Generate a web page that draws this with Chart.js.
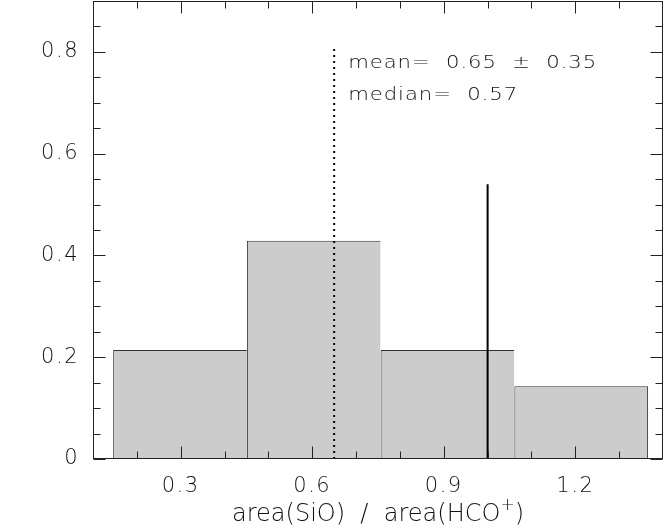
<!DOCTYPE html>
<html><head><meta charset="utf-8">
<script src="https://cdn.jsdelivr.net/npm/chart.js@4/dist/chart.umd.min.js"></script>
<style>html,body{margin:0;padding:0;background:#fff;} canvas{display:block;}</style>
</head><body>
<canvas id="c" width="664" height="528"></canvas>
<script>
// ---- data ----
const binEdges = [0.146, 0.451, 0.756, 1.061, 1.366];
const fractions = [0.214, 0.429, 0.214, 0.143];
const xTickLabels = [0.3, 0.6, 0.9, 1.2];
const xMinorTicks = [0.2, 0.4, 0.5, 0.7, 0.8, 1.0, 1.1, 1.3];
const yTickLabels = [0, 0.2, 0.4, 0.6, 0.8];
const yMinorTicks = [0.05, 0.1, 0.15, 0.25, 0.3, 0.35, 0.45, 0.5, 0.55, 0.65, 0.7, 0.75, 0.85];
const meanValue = 0.65, meanError = 0.35, medianValue = 0.57;
const meanLine = [{x: 0.65, y: 0}, {x: 0.65, y: 0.806}];
const markerLine = [{x: 1.0, y: 0}, {x: 1.0, y: 0.54}];
const xRange = [0.1, 1.4];
const yRange = [0, 0.9];

const FONT = '"DejaVu Sans", sans-serif';
const TXT = '#111';

const histData = fractions.map((f, i) => ({x: (binEdges[i] + binEdges[i + 1]) / 2, y: f}));

const framePlugin = {
  id: 'frame',
  beforeDraw(chart) {
    chart.ctx.letterSpacing = '1.5px';
  },
  afterDatasetsDraw(chart) {
    const {ctx, chartArea: a, scales: {x, y}} = chart;
    ctx.save();
    ctx.strokeStyle = '#222';
    ctx.lineWidth = 1;
    const L = Math.round(a.left) + 0.5, R = Math.round(a.right) - 0.5;
    const T = Math.round(a.top) + 0.5, B = Math.round(a.bottom) - 0.5;
    ctx.strokeRect(L, T, R - L, B - T);
    ctx.beginPath();
    const xt = (v, len) => {
      const p = Math.round(x.getPixelForValue(v)) + 0.5;
      ctx.moveTo(p, B); ctx.lineTo(p, B - len);
      ctx.moveTo(p, T); ctx.lineTo(p, T + len);
    };
    const yt = (v, len) => {
      const p = Math.round(y.getPixelForValue(v)) + 0.5;
      ctx.moveTo(L, p); ctx.lineTo(L + len, p);
      ctx.moveTo(R, p); ctx.lineTo(R - len, p);
    };
    xTickLabels.forEach(v => xt(v, 12));
    xMinorTicks.forEach(v => xt(v, 7));
    yTickLabels.forEach(v => yt(v, 12));
    yMinorTicks.forEach(v => yt(v, 7));
    ctx.stroke();
    ctx.restore();
  },
  afterDraw(chart) {
    const {ctx, scales: {x}} = chart;
    ctx.save();
    ctx.fillStyle = TXT;
    ctx.textBaseline = 'alphabetic';
    ctx.textAlign = 'left';
    // annotations, stretched horizontally to the reference's wide glyphs
    ctx.font = '200 18px ' + FONT;
    ctx.letterSpacing = '0.8px';
    const meanText = 'mean=  ' + meanValue.toFixed(2) + '  \u00b1  ' + meanError.toFixed(2);
    const medText = 'median=  ' + medianValue.toFixed(2);
    const k1 = 249 / ctx.measureText(meanText).width;
    const tx = x.getPixelForValue(meanValue) + 14;
    ctx.save();
    ctx.translate(tx, 0);
    ctx.scale(k1, 1);
    ctx.fillText(meanText, 0, 68);
    ctx.fillText(medText, 0, 100);
    ctx.restore();
    // axis title with superscript, compressed to the reference width
    ctx.letterSpacing = '0px';
    const p1 = 'area(SiO)  /  area(HCO', sup = '+', p2 = ')';
    ctx.font = '200 24px ' + FONT;
    const w1 = ctx.measureText(p1).width;
    const w2 = ctx.measureText(p2).width;
    ctx.font = '200 17px ' + FONT;
    const ws = ctx.measureText(sup).width;
    const total = w1 + ws + w2;
    const k = 292 / total;
    const sx = 378 - 146, base = 521;
    ctx.translate(sx, base);
    ctx.scale(k, 1);
    ctx.font = '200 24px ' + FONT;
    ctx.fillText(p1, 0, 0);
    ctx.font = '200 17px ' + FONT;
    ctx.fillText(sup, w1, -11);
    ctx.font = '200 24px ' + FONT;
    ctx.fillText(p2, w1 + ws, 0);
    ctx.restore();
  }
};

new Chart(document.getElementById('c'), {
  type: 'bar',
  data: {
    datasets: [
      {type: 'line', data: meanLine, borderColor: '#000', borderWidth: 2, borderDash: [2, 4],
       pointRadius: 0, fill: false, order: 0},
      {type: 'line', data: markerLine, borderColor: '#000', borderWidth: 2,
       pointRadius: 0, fill: false, order: 0},
      {type: 'bar', data: histData, backgroundColor: '#cccccc', borderColor: '#333',
       borderWidth: c => ({top: 1, left: 1, bottom: 0, right: c.dataIndex === fractions.length - 1 ? 1 : 0}),
       borderSkipped: false,
       barPercentage: 1,
       categoryPercentage: (binEdges[1] - binEdges[0]) / (xTickLabels[1] - xTickLabels[0]),
       order: 1}
    ]
  },
  options: {
    responsive: false,
    devicePixelRatio: 1,
    animation: false,
    layout: {padding: {top: 1, right: 1, left: 0, bottom: 0}},
    plugins: {legend: {display: false}, tooltip: {enabled: false}},
    scales: {
      x: {
        type: 'linear', min: xRange[0], max: xRange[1], offset: false,
        grid: {display: false, drawTicks: false}, border: {display: false},
        afterBuildTicks: s => { s.ticks = xTickLabels.map(v => ({value: v})); },
        afterFit: s => { s.height = 69; s.paddingLeft = 0; s.paddingRight = 0; },
        ticks: {padding: 15, color: TXT, font: {family: FONT, size: 21, weight: 200}, maxRotation: 0,
                callback: v => v.toFixed(1)}
      },
      y: {
        type: 'linear', min: yRange[0], max: yRange[1],
        grid: {display: false, drawTicks: false}, border: {display: false},
        afterBuildTicks: s => { s.ticks = yTickLabels.map(v => ({value: v})); },
        afterFit: s => { s.width = 93; s.paddingTop = 0; s.paddingBottom = 0; },
        ticks: {padding: 14, color: TXT, font: {family: FONT, size: 21, weight: 200},
                callback: v => v === 0 ? '0' : v.toFixed(1)}
      }
    }
  },
  plugins: [framePlugin]
});
</script>
</body></html>
